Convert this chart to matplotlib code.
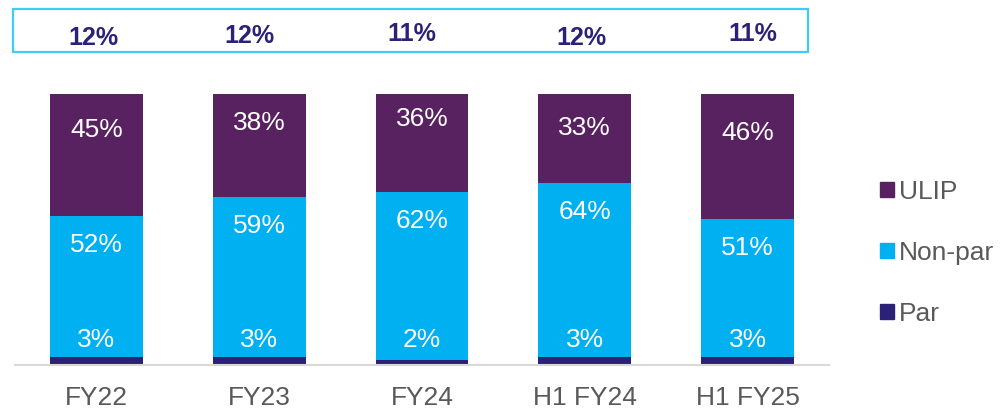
import matplotlib.pyplot as plt
from matplotlib.patches import Patch, Rectangle

# data (% share of product mix)
categories = ['FY22', 'FY23', 'FY24', 'H1 FY24', 'H1 FY25']
par = [3, 3, 2, 3, 3]
non_par = [52, 59, 62, 64, 51]
ulip = [45, 38, 36, 33, 46]
top_labels = ['12%', '12%', '11%', '12%', '11%']

c_ulip = '#58215F'
c_nonpar = '#00B0F0'
c_par = '#2B2277'
c_text = '#595959'

plt.rcParams['font.family'] = ['Liberation Sans', 'DejaVu Sans']

fig = plt.figure(figsize=(10, 4.11), dpi=100)
# axes: x from 15px to 829px, bottom at 365px, 100% reaches 94px
px = 271 / 100  # pixels per percent
ax = fig.add_axes([0.015, (411 - 365) / 411, 0.814, 365 / 411])
ax.set_xlim(-0.5, 4.5)
ax.set_ylim(0, 365 / px)

x = list(range(len(categories)))
w = 0.57
bottom2 = [a + b for a, b in zip(par, non_par)]
ax.bar(x, par, w, color=c_par, label='Par')
ax.bar(x, non_par, w, bottom=par, color=c_nonpar, label='Non-par')
ax.bar(x, ulip, w, bottom=bottom2, color=c_ulip, label='ULIP')

# ULIP labels sit at slightly different depths in the original
ulip_off = [13.3, 10.7, 9.2, 12.5, 14.4]
for i in x:
    tot = bottom2[i] + ulip[i]
    ax.text(i, tot - ulip_off[i], f'{ulip[i]}%', ha='center', va='center', color='white', fontsize=19)
    ax.text(i, bottom2[i] - 10.7, f'{non_par[i]}%', ha='center', va='center', color='white', fontsize=19)
    ax.text(i, 9.2, f'{par[i]}%', ha='center', va='center', color='white', fontsize=19)

# top box with totals (pixel rows from the reference)
nudge_x = [-0.02, -0.06, -0.06, -0.02, 0.03]
top_y = [38, 36, 34, 38, 34]
for i in x:
    ax.text(i + nudge_x[i], (365 - top_y[i]) / px, top_labels[i],
            ha='center', va='center', color=c_par, fontsize=18, fontweight='bold')

fig.patches.append(Rectangle((13 / 1000, (411 - 52) / 411), (808 - 13) / 1000, 43 / 411,
                             transform=fig.transFigure, fill=False, edgecolor='#3FCDF5', linewidth=1.6))

for s in ['top', 'right', 'left']:
    ax.spines[s].set_visible(False)
ax.spines['bottom'].set_color('#D9D9D9')
ax.spines['bottom'].set_linewidth(1.5)
ax.set_yticks([])
ax.set_xticks(x)
ax.set_xticklabels(categories, fontsize=19, color=c_text)
ax.tick_params(axis='x', length=0, pad=15)

handles = [Patch(color=c_ulip), Patch(color=c_nonpar), Patch(color=c_par)]
fig.legend(handles, ['ULIP', 'Non-par', 'Par'], loc='center left', bbox_to_anchor=(0.880, (411 - 253) / 411),
           frameon=False, fontsize=19, labelcolor=c_text, handlelength=0.53, handleheight=0.53,
           handletextpad=0.2, labelspacing=1.4, borderpad=0, borderaxespad=0)

fig.savefig('out.png', dpi=100)
